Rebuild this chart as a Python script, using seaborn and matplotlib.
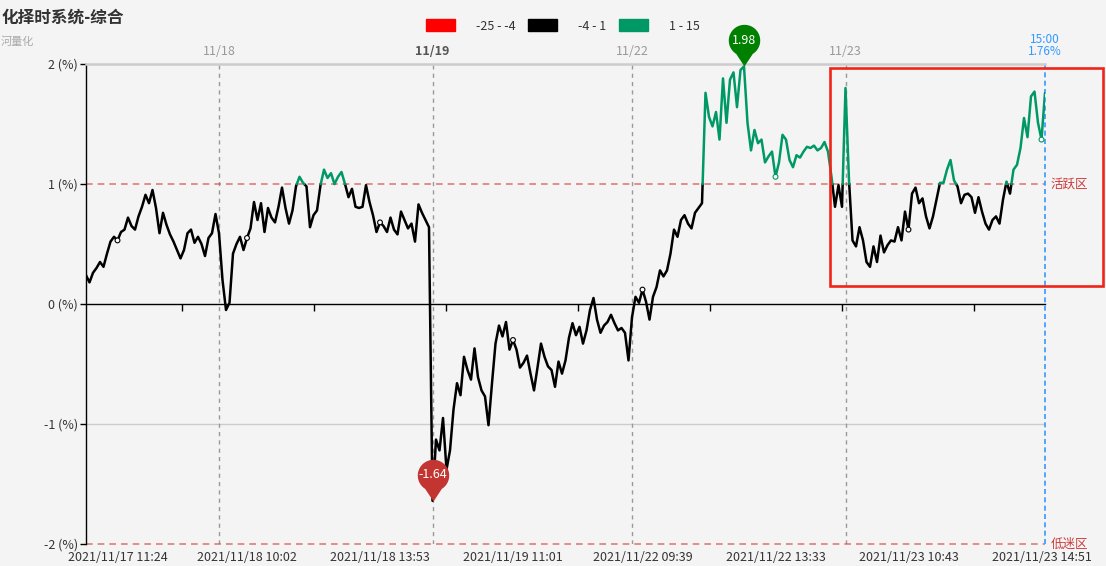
import numpy as np
import pandas as pd
import matplotlib
matplotlib.use('Agg')
import matplotlib.pyplot as plt
from matplotlib.path import Path
from matplotlib.patches import Patch, Rectangle
import seaborn as sns

# 分时数据 (%), 按交易日
v_1117 = [0.24, 0.18, 0.26, 0.3, 0.35, 0.31, 0.42, 0.52, 0.56, 0.53,
          0.6, 0.62, 0.72, 0.65, 0.62, 0.73, 0.81, 0.91, 0.84, 0.95,
          0.8, 0.59, 0.76, 0.66, 0.58, 0.52, 0.45, 0.38, 0.45, 0.59,
          0.62, 0.51, 0.56, 0.5, 0.4, 0.55, 0.59, 0.75]
v_1118 = [0.59, 0.2, -0.05, 0.01, 0.42, 0.5, 0.56, 0.45, 0.55, 0.63,
          0.85, 0.7, 0.84, 0.6, 0.8, 0.72, 0.68, 0.81, 0.97, 0.8,
          0.67, 0.78, 0.98, 1.06, 1.01, 0.98, 0.64, 0.74, 0.78, 0.99,
          1.12, 1.05, 1.09, 1.0, 1.06, 1.1, 1.0, 0.89, 0.96, 0.81,
          0.8, 0.81, 0.99, 0.85, 0.74, 0.6, 0.68, 0.65, 0.6, 0.72,
          0.62, 0.58, 0.77, 0.7, 0.63, 0.67, 0.52, 0.83, 0.76, 0.7, 0.64]
v_1119 = [-1.64, -1.13, -1.22, -0.95, -1.38, -1.22, -0.88, -0.66, -0.76, -0.44,
          -0.55, -0.63, -0.37, -0.61, -0.72, -0.77, -1.01, -0.66, -0.33, -0.18,
          -0.27, -0.15, -0.38, -0.3, -0.38, -0.53, -0.49, -0.43, -0.58, -0.72,
          -0.53, -0.33, -0.44, -0.52, -0.55, -0.69, -0.48, -0.58, -0.47, -0.28,
          -0.16, -0.26, -0.19, -0.33, -0.22, -0.05, 0.05, -0.13, -0.24, -0.18,
          -0.15, -0.09, -0.16, -0.22, -0.2, -0.24, -0.47]
v_1122 = [-0.11, 0.06, 0.01, 0.12, 0.02, -0.13, 0.06, 0.14, 0.28, 0.23,
          0.28, 0.42, 0.62, 0.56, 0.7, 0.74, 0.67, 0.63, 0.76, 0.8,
          0.84, 1.76, 1.56, 1.48, 1.6, 1.37, 1.88, 1.51, 1.87, 1.93,
          1.64, 1.95, 1.98, 1.51, 1.28, 1.45, 1.34, 1.37, 1.18, 1.23,
          1.27, 1.06, 1.18, 1.41, 1.37, 1.2, 1.14, 1.24, 1.22, 1.27,
          1.31, 1.3, 1.32, 1.28, 1.3, 1.35, 1.27, 1.06, 0.81, 0.99, 0.81]
v_1123 = [1.8, 1.03, 0.53, 0.48, 0.64, 0.53, 0.35, 0.31, 0.48, 0.35,
          0.57, 0.43, 0.49, 0.53, 0.52, 0.64, 0.53, 0.77, 0.62, 0.92,
          0.97, 0.84, 0.88, 0.73, 0.63, 0.73, 0.87, 1.01, 1.01, 1.12,
          1.2, 1.03, 0.98, 0.84, 0.91, 0.92, 0.89, 0.76, 0.89, 0.77,
          0.67, 0.62, 0.7, 0.73, 0.67, 0.87, 1.02, 0.92, 1.12, 1.16,
          1.3, 1.55, 1.39, 1.73, 1.77, 1.51, 1.37, 1.76]

day_labels = ['11/18', '11/19', '11/22', '11/23']
time_labels = ['2021/11/17 11:24', '2021/11/18 10:02', '2021/11/18 13:53',
               '2021/11/19 11:01', '2021/11/22 09:39', '2021/11/22 13:33',
               '2021/11/23 10:43', '2021/11/23 14:51']
legend_ranges = ['-25 - -4', '-4 - 1', '1 - 15']
legend_colors = ['#ff0000', '#000000', '#009966']
range_cuts = [-4, 1]
active_level = 1
low_level = -2
end_time = '15:00'

BG = '#f4f4f4'
sns.set_theme(style='white', rc={'figure.facecolor': BG, 'axes.facecolor': BG})
plt.rcParams['font.family'] = ['Noto Sans CJK SC', 'DejaVu Sans']
plt.rcParams['axes.unicode_minus'] = False

vals = np.concatenate([v_1117, v_1118, v_1119, v_1122, v_1123])
n = len(vals)
day_start = np.cumsum([len(v_1117), len(v_1118), len(v_1119), len(v_1122)])

# split the line into colour runs (visualMap style)
zone = np.digitize(vals, range_cuts, right=True)
rows = []
seg = 0
for i in range(n):
    if i > 0 and zone[i] != zone[i - 1]:
        lvl = range_cuts[min(zone[i], zone[i - 1])]
        xc = i - 1 + (lvl - vals[i - 1]) / (vals[i] - vals[i - 1])
        rows.append((xc, lvl, seg, legend_ranges[zone[i - 1]]))
        seg += 1
        rows.append((xc, lvl, seg, legend_ranges[zone[i]]))
    rows.append((i, vals[i], seg, legend_ranges[zone[i]]))
df = pd.DataFrame(rows, columns=['x', 'y', 'seg', 'zone'])

fig = plt.figure(figsize=(11.06, 5.66), dpi=100)
ax = fig.add_axes([86 / 1106, 22 / 566, 959 / 1106, 480 / 566])

sns.lineplot(data=df, x='x', y='y', hue='zone', units='seg', estimator=None,
             sort=False, palette=dict(zip(legend_ranges, legend_colors)),
             legend=False, linewidth=1.8, ax=ax, zorder=3)

ax.set_xlim(0, n - 1)
ax.set_ylim(-2, 2)
ax.set_xlabel('')
ax.set_ylabel('')

# reference lines
ax.axhline(-1, color='#cccccc', lw=1, zorder=1)
ax.axhline(active_level, color='#d9534f', lw=1.2, ls=(0, (4, 3)), alpha=0.75, zorder=2)
ax.axhline(low_level, color='#d9534f', lw=1.2, ls=(0, (4, 3)), alpha=0.75, zorder=2, clip_on=False)
for d in day_start:
    ax.axvline(d, color='#999999', lw=1, ls=(0, (3, 3)), zorder=1)
ax.axvline(n - 1, color='#3399ff', lw=1.2, ls=(0, (3, 2)), zorder=2, clip_on=False)

# x labels / hollow symbols at label points
tick_pos = np.rint(8.6 + 37.7 * np.arange(len(time_labels))).astype(int)
ax.set_xticks(tick_pos)
ax.set_xticklabels(time_labels, fontsize=9, color='#333333')
ax.tick_params(axis='x', length=0, pad=5)
ax.scatter(tick_pos, vals[tick_pos], s=12, facecolor='white',
           edgecolors=[legend_colors[z] for z in zone[tick_pos]], linewidths=0.8, zorder=4)

ax.set_yticks([-2, -1, 0, 1, 2])
ax.set_yticklabels([f'{v} (%)' for v in [-2, -1, 0, 1, 2]], fontsize=9, color='#333333')
ax.tick_params(axis='y', length=4, width=1, color='black', pad=2, left=True)

for s in ['right', 'bottom']:
    ax.spines[s].set_visible(False)
ax.spines['left'].set_color('black')
ax.spines['left'].set_linewidth(1)
ax.spines['top'].set_color('#cccccc')
ax.spines['top'].set_linewidth(1.8)

# zero axis with small ticks
zero_ax = ax.secondary_xaxis(0.5)
zero_ax.set_alignment('bottom')
zero_ax.set_xticks(27.45 + 37.7 * np.arange(len(time_labels) - 1))
zero_ax.tick_params(axis='x', length=5, width=1, color='black', labelbottom=False)
zero_ax.spines['bottom'].set_color('black')
zero_ax.spines['bottom'].set_linewidth(1)

# day labels on top
top_ax = ax.secondary_xaxis('top')
top_ax.set_xticks(day_start)
top_ax.set_xticklabels(day_labels, fontsize=9, color='#999999')
top_ax.tick_params(axis='x', length=0, pad=4)
top_ax.spines['top'].set_visible(False)
for t in top_ax.get_xticklabels():
    if t.get_text() == '11/19':
        t.set_fontweight('bold')
        t.set_color('#555555')

# zone names on the right
ax.annotate('活跃区', (1, active_level), xycoords=('axes fraction', 'data'),
            xytext=(4, 0), textcoords='offset points', ha='left', va='center',
            fontsize=9, color='#cc3b3b', annotation_clip=False)
ax.annotate('低迷区', (1, low_level), xycoords=('axes fraction', 'data'),
            xytext=(4, 0), textcoords='offset points', ha='left', va='center',
            fontsize=9, color='#cc3b3b', annotation_clip=False)

# last value label
ax.annotate(f'{end_time}\n{vals[-1]:.2f}%', (n - 1, 1), xycoords=('data', 'axes fraction'),
            xytext=(0, 4), textcoords='offset points', ha='center', va='bottom',
            fontsize=8.5, color='#3399ff', linespacing=0.95, annotation_clip=False)

# pins at max / min
th = np.radians(np.linspace(-58, 238, 60))
pin_verts = np.column_stack([np.cos(th), 1.65 + np.sin(th)]).tolist()
pin_verts = pin_verts + [[0, 0], pin_verts[0]]
pin = Path(pin_verts, closed=True)
for i_pt, col in [(int(np.argmax(vals)), '#008000'), (int(np.argmin(vals)), '#c23531')]:
    ax.plot(i_pt, vals[i_pt], marker=pin, ms=60, color=col, mec='none',
            clip_on=False, zorder=6)
    ax.annotate(f'{vals[i_pt]:.2f}', (i_pt, vals[i_pt]), xytext=(0, 18.8),
                textcoords='offset points', ha='center', va='center',
                color='white', fontsize=9, zorder=7, annotation_clip=False)

# legend
handles = [Patch(facecolor=c, edgecolor=c) for c in legend_colors]
fig.legend(handles, legend_ranges, ncol=3, loc='center', bbox_to_anchor=(0.509, 0.954),
           frameon=False, handlelength=2.3, handleheight=1.1, handletextpad=1.7,
           columnspacing=1.0, fontsize=9, labelcolor='#333333')

# title
fig.text(0.001, 1 - 18 / 566, '化择时系统-综合', fontsize=12, fontweight='bold',
         color='#333333', ha='left', va='center')
fig.text(0.001, 1 - 42 / 566, '河量化', fontsize=8, color='#aaaaaa', ha='left', va='center')

# highlight box
fig.patches.append(Rectangle((830 / 1106, 1 - 286 / 566), 273 / 1106, 218 / 566,
                             transform=fig.transFigure, fill=False,
                             edgecolor='#f02418', linewidth=1.9, zorder=10))

fig.savefig('out.png', dpi=100, facecolor=BG)
